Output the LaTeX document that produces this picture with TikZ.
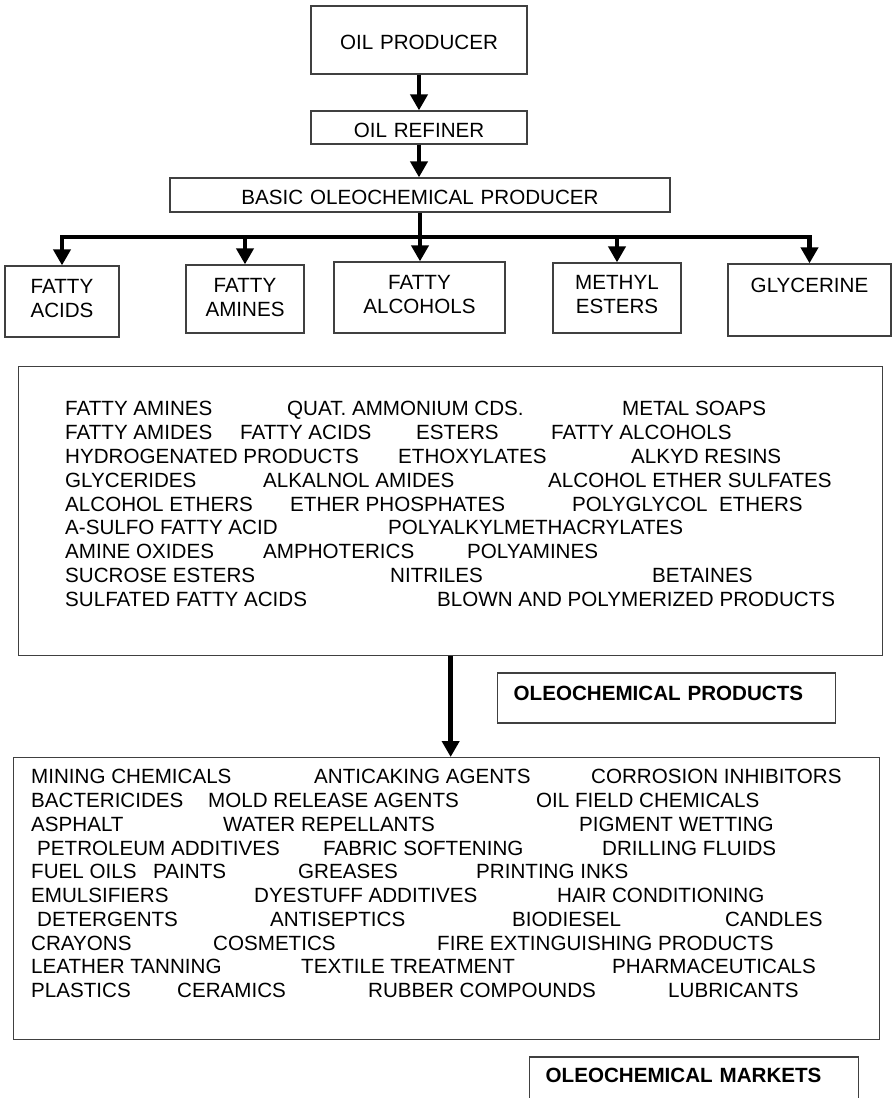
\documentclass[tikz,border=0pt]{standalone}
\usepackage{fontspec}
\setmainfont{Liberation Sans}
\usetikzlibrary{arrows.meta}

\begin{document}
\begin{tikzpicture}[
        x=1pt, y=-1pt,
        txt/.style={font=\fontsize{20.6}{24}\selectfont},
        box/.style={
            draw=black!75,
            line width=1.3pt,
            txt,
            inner sep=0pt,
            align=center,
            anchor=base
        },
        head/.style={
            draw=black!75,
            line width=1.3pt,
            font=\fontsize{20.6}{24}\selectfont\bfseries,
            inner xsep=16pt,
            inner ysep=0pt,
            align=left,
            anchor=base west
        },
        listbox/.style={draw=black!75, line width=1.3pt, anchor=north west},
        item/.style={txt, inner sep=0pt, anchor=base west},
        arrow/.style={-{Triangle[length=16pt, width=17pt]}, line width=4.5pt},
        link/.style={line width=4.5pt, line cap=rect}
    ]

        \useasboundingbox (0,0) rectangle (896,1098);

        % producer chain
        \node[box, text width=216pt, text height=43pt, text depth=25pt] (prod) at (419,49) {OIL PRODUCER};
        \node[box, text width=216pt, text height=26pt, text depth=7pt] (ref) at (419,137) {OIL REFINER};
        \node[box, text width=500pt, text height=26pt, text depth=8pt] (basic) at (420,204) {BASIC OLEOCHEMICAL PRODUCER};

        % basic products
        \node[box, text width=114pt, text height=27pt, text depth=44pt] (acids) at (62,293) {FATTY\\ACIDS};
        \node[box, text width=118pt, text height=27pt, text depth=41pt] (amines) at (245,292) {FATTY\\AMINES};
        \node[box, text width=171pt, text height=27pt, text depth=44pt] (alc) at (419.5,289) {FATTY\\ALCOHOLS};
        \node[box, text width=128pt, text height=26pt, text depth=44pt] (methyl) at (617,289) {METHYL\\ESTERS};
        \node[box, text width=163pt, text height=28pt, text depth=44pt] (gly) at (809.5,292) {GLYCERINE};

        \coordinate (bar) at (0,237);

        \draw[arrow] (prod) -- (ref);
        \draw[arrow] (ref.south) -- (ref.south |- basic.north);
        \draw[arrow] (basic.south) -- (basic.south |- alc.north);
        \draw[link] (acids.north |- bar) -- (gly.north |- bar);
        \draw[arrow] (acids.north |- bar) -- (acids.north);
        \draw[arrow] (amines.north |- bar) -- (amines.north);
        \draw[arrow] (methyl.north |- bar) -- (methyl.north);
        \draw[arrow] (gly.north |- bar) -- (gly.north);

        % oleochemical products
        \node[listbox, minimum width=864pt, minimum height=289pt] (prodlist) at (18,366) {};
        \foreach \x/\t [count=\i] in {65/FATTY AMINES,287/QUAT. AMMONIUM CDS.,622/METAL SOAPS}
            \node[item] (p1-\i) at (\x,415) {\t};
        \foreach \x/\t [count=\i] in {65/FATTY AMIDES,240/FATTY ACIDS,416/ESTERS,551/FATTY ALCOHOLS}
            \node[item] (p2-\i) at (\x,439) {\t};
        \foreach \x/\t [count=\i] in {65/HYDROGENATED PRODUCTS,398/ETHOXYLATES,631/ALKYD RESINS}
            \node[item] (p3-\i) at (\x,463) {\t};
        \foreach \x/\t [count=\i] in {65/GLYCERIDES,263/ALKALNOL AMIDES,548/ALCOHOL ETHER SULFATES}
            \node[item] (p4-\i) at (\x,487) {\t};
        \foreach \x/\t [count=\i] in {65/ALCOHOL ETHERS,290/ETHER PHOSPHATES,572/POLYGLYCOL~ ETHERS}
            \node[item] (p5-\i) at (\x,511) {\t};
        \foreach \x/\t [count=\i] in {65/A-SULFO FATTY ACID,388/POLYALKYLMETHACRYLATES}
            \node[item] (p6-\i) at (\x,534) {\t};
        \foreach \x/\t [count=\i] in {65/AMINE OXIDES,263/AMPHOTERICS,467/POLYAMINES}
            \node[item] (p7-\i) at (\x,558) {\t};
        \foreach \x/\t [count=\i] in {65/SUCROSE ESTERS,390/NITRILES,652/BETAINES}
            \node[item] (p8-\i) at (\x,582) {\t};
        \foreach \x/\t [count=\i] in {65/SULFATED FATTY ACIDS,437/BLOWN AND POLYMERIZED PRODUCTS}
            \node[item] (p9-\i) at (\x,606) {\t};

        \node[head, text width=306pt, text height=27pt, text depth=23pt] (prodhead) at (497,700) {OLEOCHEMICAL PRODUCTS};

        % oleochemical markets
        \node[listbox, minimum width=866pt, minimum height=282pt] (mktlist) at (13,757) {};
        \foreach \x/\t [count=\i] in {31/MINING CHEMICALS,314/ANTICAKING AGENTS,591/CORROSION INHIBITORS}
            \node[item] (m1-\i) at (\x,783) {\t};
        \foreach \x/\t [count=\i] in {31/BACTERICIDES,208/MOLD RELEASE AGENTS,536/OIL FIELD CHEMICALS}
            \node[item] (m2-\i) at (\x,807) {\t};
        \foreach \x/\t [count=\i] in {31/ASPHALT,223/WATER REPELLANTS,579/PIGMENT WETTING}
            \node[item] (m3-\i) at (\x,831) {\t};
        \foreach \x/\t [count=\i] in {37/PETROLEUM ADDITIVES,323/FABRIC SOFTENING,602/DRILLING FLUIDS}
            \node[item] (m4-\i) at (\x,855) {\t};
        \foreach \x/\t [count=\i] in {31/FUEL OILS,153/PAINTS,298/GREASES,476/PRINTING INKS}
            \node[item] (m5-\i) at (\x,878) {\t};
        \foreach \x/\t [count=\i] in {31/EMULSIFIERS,254/DYESTUFF ADDITIVES,557/HAIR CONDITIONING}
            \node[item] (m6-\i) at (\x,902) {\t};
        \foreach \x/\t [count=\i] in {37/DETERGENTS,270/ANTISEPTICS,512/BIODIESEL,725/CANDLES}
            \node[item] (m7-\i) at (\x,926) {\t};
        \foreach \x/\t [count=\i] in {31/CRAYONS,213/COSMETICS,437/FIRE EXTINGUISHING PRODUCTS}
            \node[item] (m8-\i) at (\x,950) {\t};
        \foreach \x/\t [count=\i] in {31/LEATHER TANNING,301/TEXTILE TREATMENT,612/PHARMACEUTICALS}
            \node[item] (m9-\i) at (\x,973) {\t};
        \foreach \x/\t [count=\i] in {31/PLASTICS,177/CERAMICS,368/RUBBER COMPOUNDS,668/LUBRICANTS}
            \node[item] (m10-\i) at (\x,997) {\t};

        \node[head, text width=297pt, text height=25pt, text depth=30pt] (mkthead) at (529,1082) {OLEOCHEMICAL MARKETS};

        \draw[arrow] (prodlist.south) -- (prodlist.south |- mktlist.north);

    \end{tikzpicture}
\end{document}
